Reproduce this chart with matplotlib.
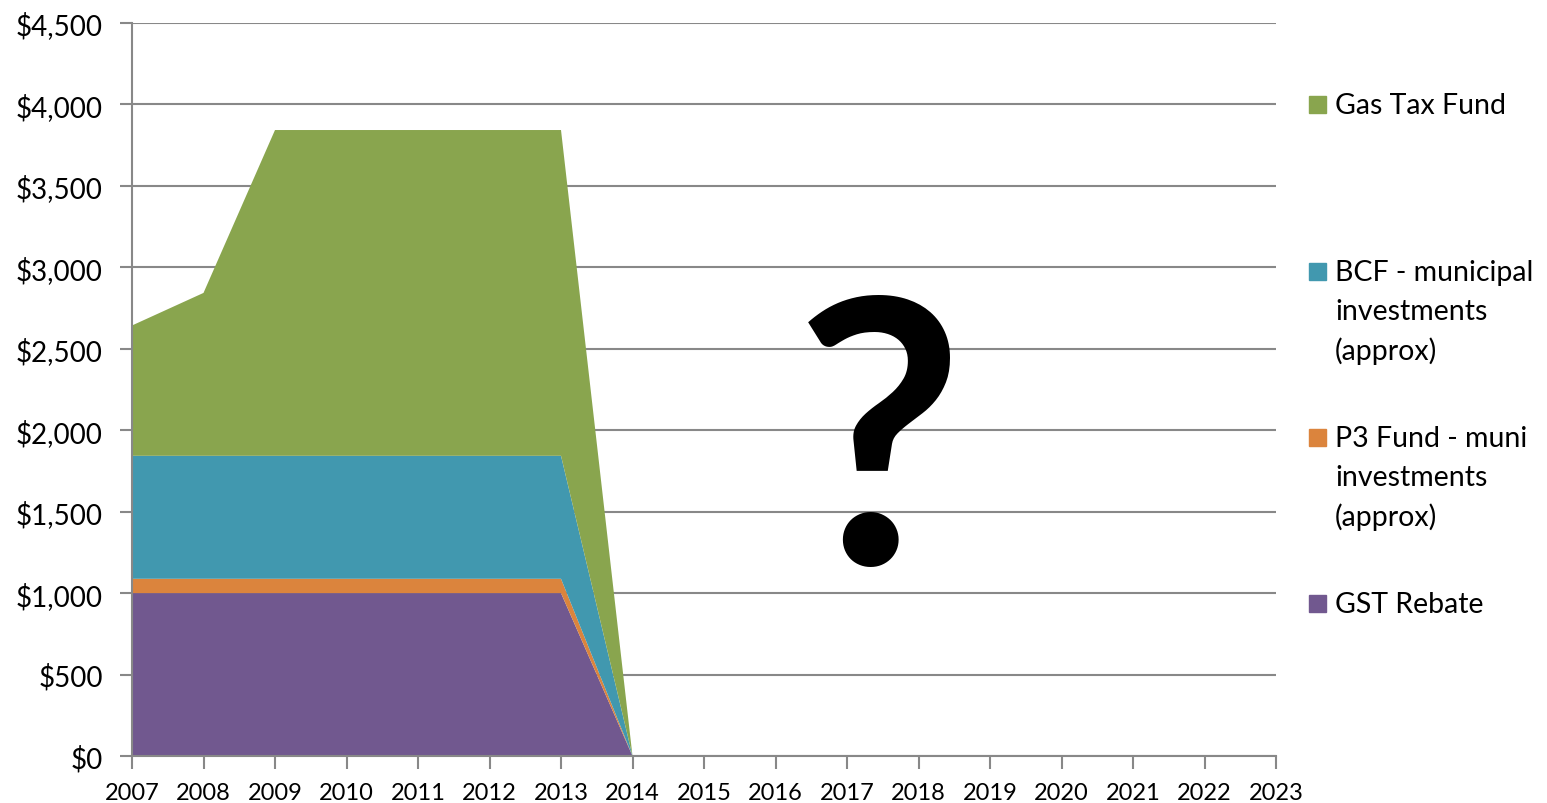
import matplotlib.pyplot as plt
from matplotlib.patches import Rectangle
from matplotlib.ticker import FuncFormatter

years = [2007, 2008, 2009, 2010, 2011, 2012, 2013, 2014]
gst_rebate = [1000, 1000, 1000, 1000, 1000, 1000, 1000, 0]
p3_fund = [88, 88, 88, 88, 88, 88, 88, 0]
bcf_muni = [755, 755, 755, 755, 755, 755, 755, 0]
gas_tax = [800, 1000, 2000, 2000, 2000, 2000, 2000, 0]

series_labels = ["GST Rebate", "P3 Fund - muni\ninvestments\n(approx)",
                 "BCF - municipal\ninvestments\n(approx)", "Gas Tax Fund"]
colors = ["#71588F", "#DB843D", "#4198AF", "#89A54E"]
axis_years = list(range(2007, 2024))

plt.rcParams['font.family'] = ['Lato', 'DejaVu Sans']
grid_col = "#888888"

fig = plt.figure(figsize=(15.47, 8.04), dpi=100)
ax = fig.add_axes([132/1547, 1 - 757/804, (1276-132)/1547, (757-24)/804])

ax.stackplot(years, gst_rebate, p3_fund, bcf_muni, gas_tax,
             colors=colors, linewidth=0, zorder=2)

ax.set_xlim(2007, 2023)
ax.set_ylim(0, 4500)
ax.set_yticks(range(0, 4501, 500))
ax.set_xticks(axis_years)
ax.yaxis.set_major_formatter(FuncFormatter(lambda v, p: "${:,.0f}".format(v)))
ax.grid(axis='y', color=grid_col, linewidth=1.5, zorder=0)
ax.set_axisbelow(True)
for s in ['top', 'right']:
    ax.spines[s].set_visible(False)
for s in ['left', 'bottom']:
    ax.spines[s].set_color(grid_col)
    ax.spines[s].set_linewidth(1.5)
ax.tick_params(axis='both', colors=grid_col, width=1.5, length=9, labelcolor='black')
ax.tick_params(axis='y', labelsize=20, pad=12)
ax.tick_params(axis='x', labelsize=17, pad=10)

# big question mark
ax.text(2017.45, 1830, "?", fontsize=265, fontweight='bold', ha='center', va='center',
        color='black', zorder=3)

# legend drawn by hand, Excel-style spacing
leg_order = [3, 2, 1, 0]
first_line_y = [106, 273, 439, 605]
line_h = 39
for k, idx in enumerate(leg_order):
    yc = first_line_y[k]
    fig.patches.append(Rectangle((1309/1547, 1 - (yc + 8)/804), 17/1547, 17/804,
                                 transform=fig.transFigure, color=colors[idx]))
    for j, line in enumerate(series_labels[idx].split("\n")):
        fig.text(1335/1547, 1 - (yc + j*line_h)/804, line, fontsize=20.5,
                 va='center', ha='left')

fig.savefig("out.png", dpi=100)
